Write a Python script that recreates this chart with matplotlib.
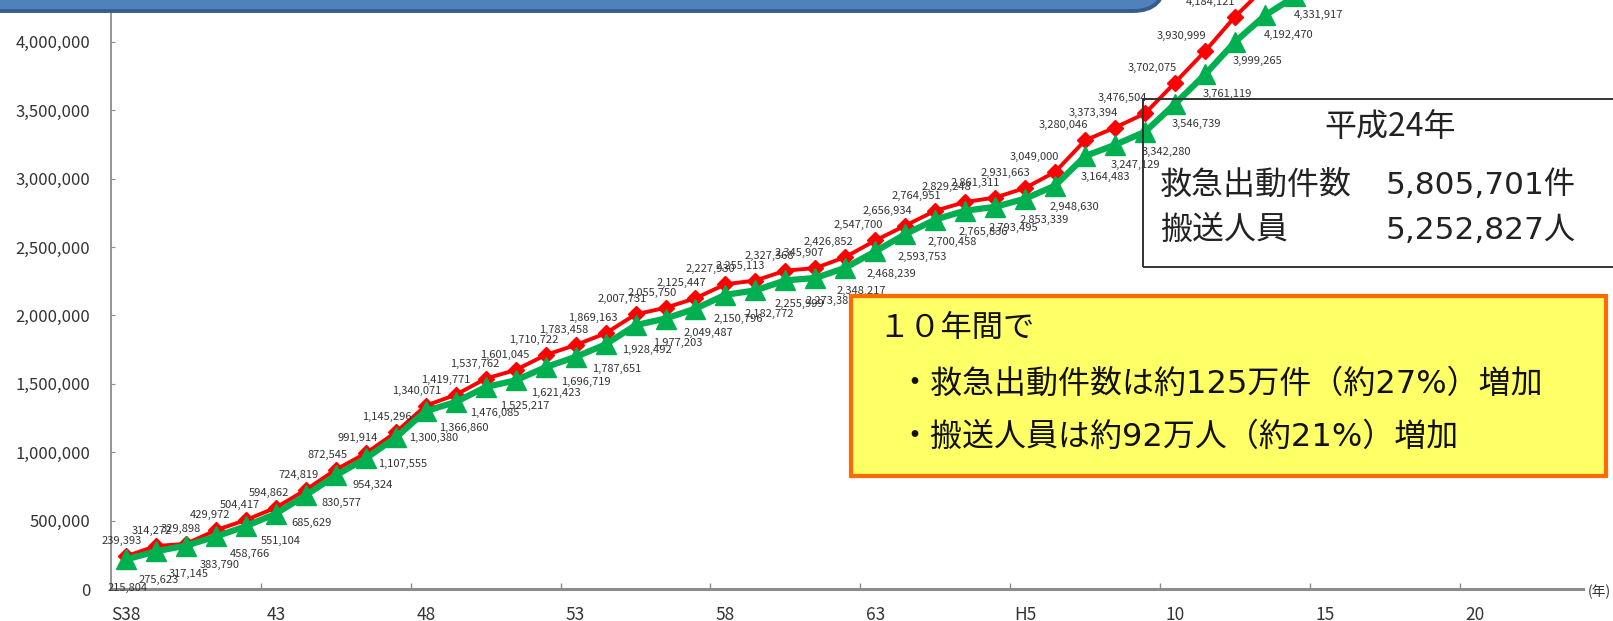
import numpy as np
import matplotlib
matplotlib.use('Agg')
import matplotlib.pyplot as plt
from matplotlib.patches import FancyBboxPatch, Rectangle
from matplotlib.transforms import IdentityTransform
from matplotlib.ticker import FuncFormatter

plt.rcParams['font.family'] = ['Noto Sans CJK JP', 'DejaVu Sans']

# 年 (S38 = 1963 ... H24 = 2012)
years = [f'S{n}' for n in range(38, 64)] + [f'H{n}' for n in range(1, 25)]
tick_labels = ['S38', '43', '48', '53', '58', '63', 'H5', '10', '15', '20']

# 救急出動件数
dispatches = [239393, 314272, 329898, 429972, 504417, 594862, 724819, 872545,
              991914, 1145296, 1340071, 1419771, 1537762, 1601045, 1710722,
              1783458, 1869163, 2007731, 2055750, 2125447, 2227930, 2255113,
              2327368, 2345907, 2426852, 2547700, 2656934, 2764951, 2829248,
              2861311, 2931663, 3049000, 3280046, 3373394, 3476504, 3702075,
              3930999, 4184121, 4397527]

# 搬送人員
transported = [215804, 275623, 317145, 383790, 458766, 551104, 685629, 830577,
               954324, 1107555, 1300380, 1366860, 1476085, 1525217, 1621423,
               1696719, 1787651, 1928492, 1977203, 2049487, 2150796, 2182772,
               2255999, 2273385, 2348217, 2468239, 2593753, 2700458, 2765836,
               2793495, 2853339, 2948630, 3164483, 3247129, 3342280, 3546739,
               3761119, 3999265, 4192470, 4331917, 4575325]

summary_title = '平成24年'
summary_rows = [('救急出動件数', '5,805,701件'), ('搬送人員', '5,252,827人')]
note_lines = ['１０年間で',
              '・救急出動件数は約125万件（約27%）増加',
              '・搬送人員は約92万人（約21%）増加']

W, H = 1613, 621
fig = plt.figure(figsize=(W / 100, H / 100), dpi=100)


def fx(x):
    return x / W


def fy(y):
    return 1 - y / H


# 軸の位置 (ピクセル)
ax = fig.add_axes([fx(111), fy(589), (1583 - 111) / W, 589 / H])
ax.set_xlim(-0.5, 48.61)
ax.set_ylim(0, 4305600)

xr = np.arange(len(dispatches))
xg = np.arange(len(transported))
ax.plot(xr, dispatches, color='#FF0000', lw=2.8, marker='D', ms=8.5,
        mec='#FF0000', zorder=3)
ax.plot(xg, transported, color='#00B050', lw=4.5, marker='^', ms=15,
        mec='#00B050', zorder=4)

# データラベル
nr = 37
for i, v in enumerate(dispatches):
    dx = -4 - 20 * i / nr
    ax.annotate(f'{v:,}', (i, v), xytext=(dx, 15), textcoords='offset pixels',
                ha='center', va='center', fontsize=8, color='#333333',
                annotation_clip=False, zorder=6)
ng = 39
for i, v in enumerate(transported):
    dx = 2 + 22 * i / ng
    dy = -(29 - 10 * i / ng)
    ax.annotate(f'{v:,}', (i, v), xytext=(dx, dy), textcoords='offset pixels',
                ha='center', va='center', fontsize=8, color='#333333',
                annotation_clip=False, zorder=6)

# 軸
for s in ['top', 'right']:
    ax.spines[s].set_visible(False)
ax.spines['left'].set_color('#8C8C8C')
ax.spines['left'].set_linewidth(1.3)
ax.spines['bottom'].set_color('#8C8C8C')
ax.spines['bottom'].set_linewidth(2.2)

ax.set_yticks(np.arange(0, 4000001, 500000))
ax.yaxis.set_major_formatter(FuncFormatter(lambda v, p: f'{int(v):,}'))
ax.tick_params(axis='y', direction='in', length=3, color='#8C8C8C',
               labelsize=12, labelcolor='#333333', pad=15)

ax.set_xticks(np.arange(-0.5, 48, 5))
ax.set_xticklabels([])
ax.set_xticks(np.arange(0, 46, 5), minor=True)
ax.set_xticklabels(tick_labels, minor=True)
ax.tick_params(axis='x', which='major', direction='in', length=4.5,
               width=1, color='#8C8C8C')
ax.tick_params(axis='x', which='minor', length=0, labelsize=12.5,
               labelcolor='#333333', pad=12)

fig.text(fx(1599), fy(592), '(年)', ha='center', va='center', fontsize=10,
         color='#333333')

# タイトル枠 (上部で切れている)
title_box = FancyBboxPatch((-40, H - 11), 1205, 120,
                           boxstyle='round,pad=0,rounding_size=32',
                           transform=IdentityTransform(), fc='#4F81BD',
                           ec='#385D8A', lw=2.8, zorder=10)
fig.add_artist(title_box)

# 平成24年の枠
num_font = ['DejaVu Sans', 'Noto Sans CJK JP']
fig.add_artist(Rectangle((fx(1143), fy(267)), fx(1640) - fx(1143),
                         fy(99) - fy(267), transform=fig.transFigure,
                         fill=False, ec='#333333', lw=1.4, zorder=5))
fig.text(fx(1390), fy(127), summary_title, ha='center', va='center',
         fontsize=23, color='#222222')
for k, (lab, num) in enumerate(summary_rows):
    yy = 185 + 45 * k
    fig.text(fx(1160), fy(yy), lab, ha='left', va='center', fontsize=23,
             color='#222222')
    fig.text(fx(1386), fy(yy), num, ha='left', va='center', fontsize=22.5,
             color='#222222', family=num_font)

# 10年間の枠
fig.add_artist(Rectangle((fx(851), fy(476)), fx(1606) - fx(851),
                         fy(296) - fy(476), transform=fig.transFigure,
                         fc='#FFFF66', ec='#FF6A00', lw=3, zorder=7))
fig.text(fx(878), fy(328), note_lines[0], ha='left', va='center',
         fontsize=22.5, color='#111111', zorder=8)
fig.text(fx(898), fy(384), note_lines[1], ha='left', va='center',
         fontsize=23, color='#111111', zorder=8, family=num_font)
fig.text(fx(898), fy(437), note_lines[2], ha='left', va='center',
         fontsize=23, color='#111111', zorder=8, family=num_font)

fig.savefig('out.png', dpi=100)
